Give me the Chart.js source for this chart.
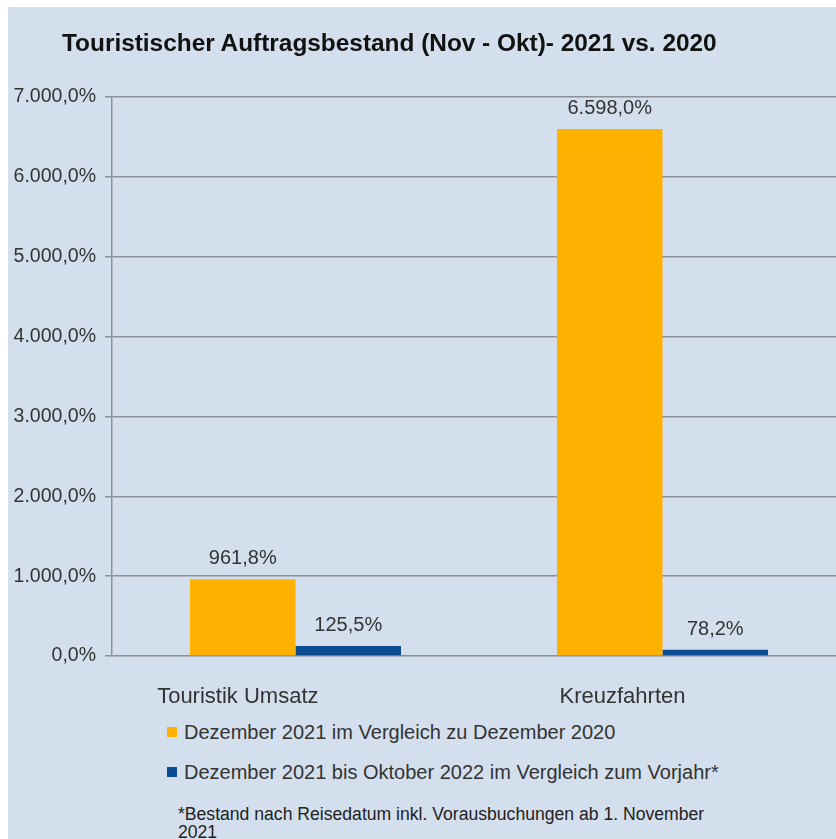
<!DOCTYPE html>
<html lang="de">
<head>
    <meta charset="UTF-8">
    <title>Touristischer Auftragsbestand</title>
    <script src="https://cdn.jsdelivr.net/npm/chart.js"></script>
    <style>
        body {
            margin: 0;
            background: #ffffff;
            overflow: hidden;
            font-family: 'Liberation Sans', Arial, sans-serif;
        }
        .frame {
            position: absolute;
            left: 8px;
            top: 7px;
            width: 840px;
            height: 840px;
            background: #d4dfee;
            overflow: hidden;
        }
        .frame canvas { position: absolute; left: 0; top: 0; }
        .title {
            position: absolute;
            left: 54px;
            top: 24px;
            font-size: 24.4px;
            font-weight: bold;
            line-height: 1;
            color: #111;
            white-space: nowrap;
        }
        .legend-row {
            position: absolute;
            left: 159px;
            display: flex;
            align-items: center;
            font-size: 20px;
            line-height: 20px;
            color: #333;
            white-space: nowrap;
        }
        .legend-row .box {
            width: 10px;
            height: 10px;
            margin-right: 7px;
        }
        .note {
            position: absolute;
            left: 170px;
            top: 798px;
            font-size: 17.6px;
            line-height: 18px;
            color: #222;
            white-space: nowrap;
        }
    </style>
</head>
<body>
<div class="frame">
    <canvas id="chart" width="840" height="705"></canvas>
    <div class="title">Touristischer Auftragsbestand (Nov - Okt)- 2021 vs. 2020</div>
    <div id="legend"></div>
    <div class="note">*Bestand nach Reisedatum inkl. Vorausbuchungen ab 1. November<br>2021</div>
</div>

<script>
    // data
    const categories = ['Touristik Umsatz', 'Kreuzfahrten'];
    const seriesNames = [
        'Dezember 2021 im Vergleich zu Dezember 2020',
        'Dezember 2021 bis Oktober 2022 im Vergleich zum Vorjahr*'
    ];
    const decemberValues = [961.8, 6598.0];
    const periodValues = [125.5, 78.2];
    const yTicks = [0, 1000, 2000, 3000, 4000, 5000, 6000, 7000];

    const colors = ['#ffb100', '#0b4c92'];
    const fontFamily = "'Liberation Sans', Arial, sans-serif";

    // German number format: 6.598,0%
    function fmtPct(v) {
        const parts = v.toFixed(1).split('.');
        const intPart = parts[0].replace(/\B(?=(\d{3})+(?!\d))/g, '.');
        return intPart + ',' + parts[1] + '%';
    }

    const valueLabels = {
        id: 'valueLabels',
        afterDatasetsDraw(chart) {
            const ctx = chart.ctx;
            ctx.save();
            ctx.font = '20px ' + fontFamily;
            ctx.fillStyle = '#333';
            ctx.textAlign = 'center';
            ctx.textBaseline = 'alphabetic';
            chart.data.datasets.forEach((ds, di) => {
                chart.getDatasetMeta(di).data.forEach((bar, i) => {
                    ctx.fillText(fmtPct(ds.data[i]), bar.x, bar.y - 15);
                });
            });
            ctx.restore();
        }
    };

    const chart = new Chart(document.getElementById('chart'), {
        type: 'bar',
        data: {
            labels: categories,
            datasets: [
                { label: seriesNames[0], data: decemberValues, backgroundColor: colors[0] },
                { label: seriesNames[1], data: periodValues, backgroundColor: colors[1] }
            ]
        },
        options: {
            responsive: false,
            animation: false,
            devicePixelRatio: 1,
            categoryPercentage: 0.575,
            barPercentage: 1.0,
            layout: { padding: { top: 90, right: 2, left: 0, bottom: 0 } },
            plugins: {
                legend: { display: false },
                title: { display: false },
                tooltip: { enabled: false }
            },
            scales: {
                x: {
                    grid: { display: false },
                    border: { display: false },
                    ticks: {
                        color: '#333',
                        font: { family: fontFamily, size: 22 },
                        padding: 20,
                        align: 'end',
                        labelOffset: 23,
                        maxRotation: 0
                    },
                    afterFit(scale) { scale.height = 56; }
                },
                y: {
                    min: 0,
                    max: 7000,
                    afterBuildTicks(scale) {
                        scale.ticks = yTicks.map(v => ({ value: v }));
                    },
                    grid: {
                        color: '#8b9096',
                        lineWidth: 1.5,
                        tickLength: 7
                    },
                    border: { color: '#8b9096', width: 1.5 },
                    ticks: {
                        color: '#333',
                        font: { family: fontFamily, size: 19.5 },
                        padding: 9,
                        callback: v => fmtPct(v)
                    },
                    afterFit(scale) { scale.width = 104; }
                }
            }
        },
        plugins: [valueLabels]
    });

    // legend rows built from the datasets
    const legendTops = [715, 755];
    const legendEl = document.getElementById('legend');
    chart.data.datasets.forEach((ds, i) => {
        const row = document.createElement('div');
        row.className = 'legend-row';
        row.style.top = legendTops[i] + 'px';
        row.innerHTML = '<span class="box" style="background:' + ds.backgroundColor + '"></span>' + ds.label;
        legendEl.appendChild(row);
    });
</script>
</body>
</html>
